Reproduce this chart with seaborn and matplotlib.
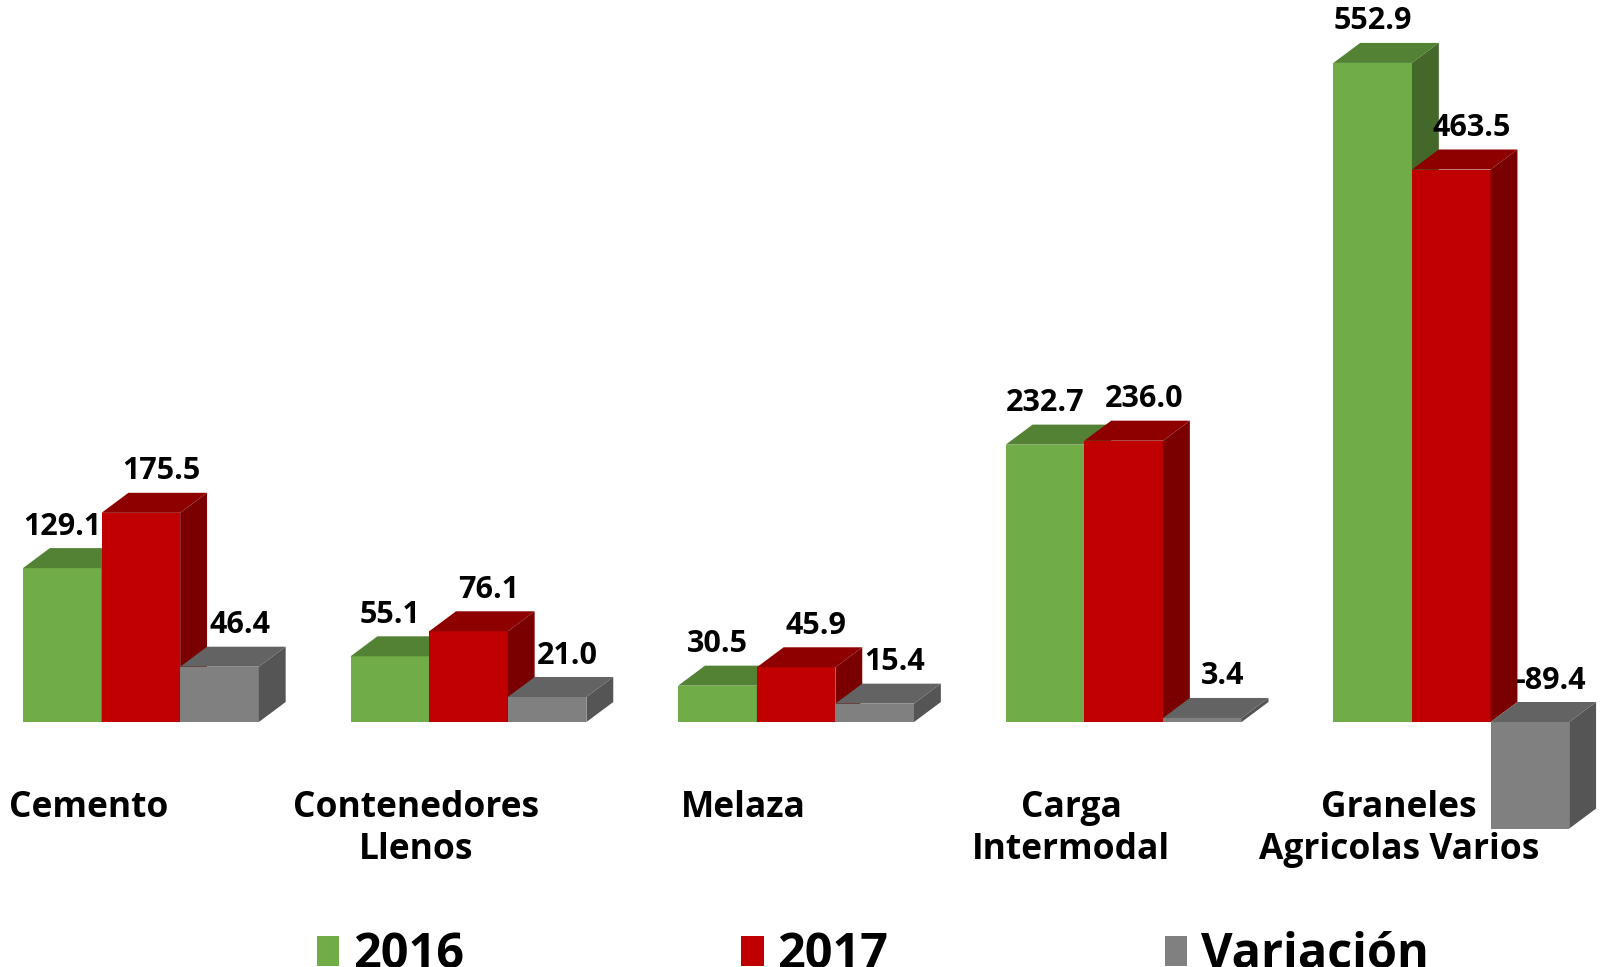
import numpy as np
import pandas as pd
import matplotlib
matplotlib.use('Agg')
import matplotlib.pyplot as plt
from matplotlib.patches import Polygon, Patch
import seaborn as sns

# Data
categories = ['Cemento', 'Contenedores\nLlenos', 'Melaza', 'Carga\nIntermodal', 'Graneles\nAgricolas Varios']
series = ['2016', '2017', 'Variación']
values_2016 = [129.1, 55.1, 30.5, 232.7, 552.9]
values_2017 = [175.5, 76.1, 45.9, 236.0, 463.5]
values_var = [46.4, 21.0, 15.4, 3.4, -89.4]

df = pd.DataFrame({
    'categoria': categories * 3,
    'serie': [s for s in series for _ in categories],
    'valor': values_2016 + values_2017 + values_var,
})

# front / top / side colours per series
front = ['#70AD47', '#C00000', '#808080']
top = ['#548235', '#8E0000', '#636363']
side = ['#43682A', '#7A0000', '#555555']
# horizontal shift of the value labels per series (data units)
label_shift = [0.0, 0.062, 0.062]

sns.set_style('white')
plt.rcParams['font.family'] = ['Open Sans', 'DejaVu Sans']
plt.rcParams['text.color'] = 'black'

fig = plt.figure(figsize=(16, 9.67), dpi=100)
ax = fig.add_axes([0, 0, 1, 1])

sns.barplot(data=df, x='categoria', y='valor', hue='serie', hue_order=series,
            palette=front, saturation=1, width=0.72, legend=False, ax=ax,
            linewidth=0)

ax.set_xlim(-0.43, 4.454)
ax.set_ylim(-205.5, 605.7)
ax.axis('off')

# fake 3D depth
dx = 0.082
dy = 16.8
for k, cont in enumerate(ax.containers):
    for bar in cont:
        x0 = bar.get_x()
        w = bar.get_width()
        h = bar.get_height()
        x1 = x0 + w
        lo, hi = min(0, h), max(0, h)
        bar.set_zorder(2 + k)
        top_face = Polygon([(x0, hi), (x1, hi), (x1 + dx, hi + dy), (x0 + dx, hi + dy)],
                           closed=True, facecolor=top[k], edgecolor='none', zorder=2 + k)
        side_face = Polygon([(x1, lo), (x1 + dx, lo + dy), (x1 + dx, hi + dy), (x1, hi)],
                            closed=True, facecolor=side[k], edgecolor='none', zorder=2 + k)
        ax.add_patch(top_face)
        ax.add_patch(side_face)
        ax.text(x0 + w / 2 + label_shift[k], hi + dy + 18, f'{h:.1f}', ha='center', va='center',
                fontsize=22, fontweight='bold', color='black', zorder=10)

# category labels under the groups
for i, cat in enumerate(categories):
    ax.text(i - 0.16, -57, cat, ha='center', va='top', fontsize=25.5,
            fontweight='bold', color='black', linespacing=1.24)

handles = [Patch(facecolor=c, edgecolor='none') for c in front]
fig.legend(handles, series, loc='center left', bbox_to_anchor=(0.183, 0.012),
           ncol=3, frameon=False, borderpad=0, labelcolor='black',
           prop={'weight': 'bold', 'size': 35},
           handlelength=0.46, handleheight=0.56, handletextpad=0.28, columnspacing=5.7)

fig.savefig('out.png', dpi=100)
